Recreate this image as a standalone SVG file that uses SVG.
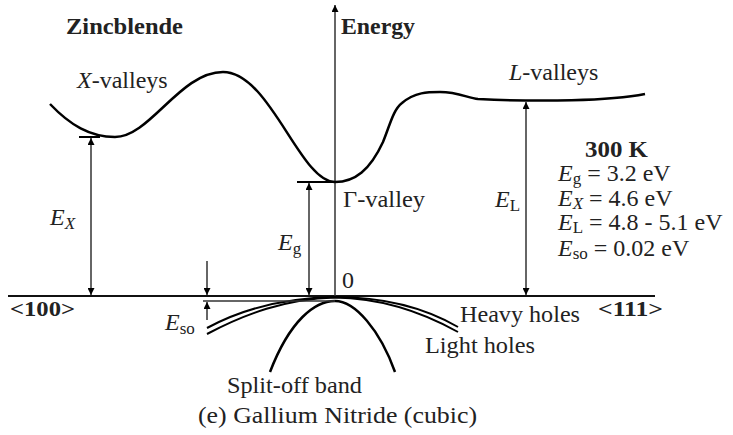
<svg xmlns="http://www.w3.org/2000/svg" width="733" height="435" viewBox="0 0 733 435">
<style>
text{font-family:"Liberation Serif","Times New Roman",serif;font-size:24px;fill:#222}
.b{font-weight:bold}
.i{font-style:italic}
.s{font-size:17px}
.band{fill:none;stroke:#000;stroke-width:2.5}
.hole{fill:none;stroke:#000;stroke-width:2}
.axis{fill:none;stroke:#111;stroke-width:2.2}
.dim{fill:none;stroke:#333;stroke-width:1.5}
.lvl{fill:none;stroke:#000;stroke-width:2}
</style>
<defs>
<marker id="ah" viewBox="0 0 10 10" refX="10" refY="5" markerWidth="7" markerHeight="7" markerUnits="userSpaceOnUse" orient="auto-start-reverse">
<path d="M0,0 L10,5 L0,10 z" fill="#000"/>
</marker>
</defs>

<g id="axes">
<line class="axis" x1="8" y1="296" x2="655" y2="296"/>
<line class="dim" x1="335" y1="296" x2="335" y2="5" marker-end="url(#ah)"/>
</g>

<g id="conduction-band">
<path class="band" d="M50,104 C70,125 90,137 115,137 C150,137 180,72 223,72 C270,72 300,182 335,182"/>
<path class="band" d="M335,182 C355,182 370,170 383,142 C390,125 393,110 402,103 C415,92 428,92 440,92 C458,92 468,98 478,99 C540,102 610,101 645,94"/>
</g>

<g id="valence-bands">
<path class="hole" d="M207,328 C240,310 280,298 335,297 C375,297 420,305 458,327"/>
<path class="hole" d="M207,334 C245,314 285,299 335,297.5 C372,298 415,308 458,332"/>
<path class="band" d="M270,372 C290,320 315,301 335,301 C355,301 380,330 395,372"/>
</g>

<g id="connectors">
<line class="lvl" x1="79" y1="137" x2="100" y2="137"/>
<line class="lvl" x1="297" y1="182" x2="335" y2="182"/>
<line class="dim" x1="203" y1="301" x2="335" y2="301"/>
<line class="dim" x1="91" y1="138" x2="91" y2="295" marker-start="url(#ah)" marker-end="url(#ah)"/>
<line class="dim" x1="309" y1="183" x2="309" y2="295" marker-start="url(#ah)" marker-end="url(#ah)"/>
<line class="dim" x1="526" y1="102" x2="526" y2="295" marker-start="url(#ah)" marker-end="url(#ah)"/>
<line class="dim" x1="207" y1="261" x2="207" y2="295" marker-end="url(#ah)"/>
<line class="dim" x1="207" y1="320" x2="207" y2="302" marker-end="url(#ah)"/>
</g>

<g id="labels">
<text class="b" x="66" y="34" textLength="117" lengthAdjust="spacingAndGlyphs">Zincblende</text>
<text class="b" x="341" y="34" textLength="74" lengthAdjust="spacingAndGlyphs">Energy</text>
<text x="77" y="88"><tspan class="i">X</tspan>-valleys</text>
<text x="509" y="80"><tspan class="i">L</tspan>-valleys</text>
<text x="343" y="207" textLength="82" lengthAdjust="spacingAndGlyphs">Γ-valley</text>
<text x="50" y="225"><tspan class="i">E</tspan><tspan class="i s" dy="4">X</tspan></text>
<text x="278" y="250"><tspan class="i">E</tspan><tspan class="s" dy="4">g</tspan></text>
<text x="495" y="207"><tspan class="i">E</tspan><tspan class="s" dy="4">L</tspan></text>
<text x="342" y="288">0</text>
<text class="b" x="10" y="316" style="font-size:22px" textLength="65" lengthAdjust="spacingAndGlyphs">&lt;100&gt;</text>
<text class="b" x="598" y="316" style="font-size:22px" textLength="65" lengthAdjust="spacingAndGlyphs">&lt;111&gt;</text>
<text x="165" y="330"><tspan class="i">E</tspan><tspan class="s" dy="4">so</tspan></text>
<text x="460" y="322" textLength="120" lengthAdjust="spacingAndGlyphs">Heavy holes</text>
<text x="425" y="353" textLength="110" lengthAdjust="spacingAndGlyphs">Light holes</text>
<text x="227" y="393" textLength="135" lengthAdjust="spacingAndGlyphs">Split-off band</text>
<text x="198" y="423" textLength="279" lengthAdjust="spacingAndGlyphs">(e) Gallium Nitride (cubic)</text>
</g>

<g id="parameters">
<text class="b" x="585" y="157" textLength="63" lengthAdjust="spacingAndGlyphs">300 K</text>
<text x="558" y="181"><tspan class="i">E</tspan><tspan class="s" dy="3">g</tspan><tspan dy="-3"> = 3.2 eV</tspan></text>
<text x="558" y="206"><tspan class="i">E</tspan><tspan class="i s" dy="3">X</tspan><tspan dy="-3"> = 4.6 eV</tspan></text>
<text x="558" y="230"><tspan class="i">E</tspan><tspan class="s" dy="3">L</tspan><tspan dy="-3"> = 4.8 - 5.1 eV</tspan></text>
<text x="558" y="256"><tspan class="i">E</tspan><tspan class="s" dy="3">so</tspan><tspan dy="-3"> = 0.02 eV</tspan></text>
</g>
</svg>
